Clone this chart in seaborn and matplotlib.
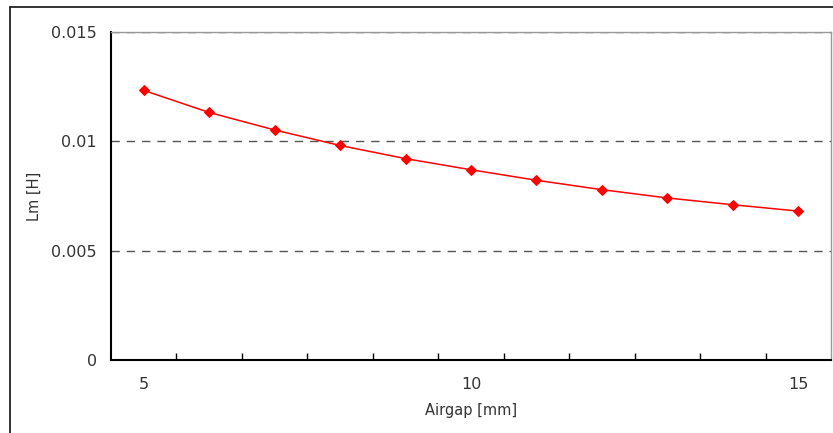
import matplotlib
matplotlib.use("Agg")
import matplotlib.pyplot as plt
import seaborn as sns
import pandas as pd
from matplotlib.lines import Line2D

airgap = [5, 6, 7, 8, 9, 10, 11, 12, 13, 14, 15]
lm = [0.01233, 0.01132, 0.01052, 0.00981, 0.00921, 0.00870, 0.00822, 0.00779, 0.00741, 0.00710, 0.00681]
yticks = [0, 0.005, 0.01, 0.015]
ytick_labels = ["0", "0.005", "0.01", "0.015"]
xticks = [5, 10, 15]
xtick_labels = ["5", "10", "15"]

sns.set_style("white")
plt.rcParams['font.family'] = ['DejaVu Sans']

df = pd.DataFrame({"Airgap": airgap, "Lm": lm})

fig = plt.figure(figsize=(8.33, 4.33), dpi=100)
ax = fig.add_axes([111/833, 1-360/433, 720/833, 328/433])

sns.lineplot(data=df, x="Airgap", y="Lm", ax=ax, color="#ff0000", linewidth=1.1,
             marker="D", markersize=5.5, markeredgecolor="#ff0000", markerfacecolor="#ff0000")

ax.set_xlim(4.5, 15.5)
ax.set_ylim(0, 0.015)
ax.set_yticks(yticks)
ax.set_yticklabels(ytick_labels, fontsize=11.5, color="#333333")
ax.set_xticks(xticks)
ax.set_xticklabels(xtick_labels, fontsize=11.5, color="#333333")
ax.tick_params(axis='x', which='major', length=0, pad=12)
ax.tick_params(axis='y', length=0, pad=10)
# minor ticks at category boundaries, pointing inward
ax.set_xticks([x + 0.5 for x in airgap[:-1]], minor=True)
ax.tick_params(axis='x', which='minor', bottom=True, direction='in', length=5, width=1, color='black')

for y in yticks[1:]:
    ax.axhline(y, color="#555555", linestyle=(0, (6, 5)), linewidth=1, zorder=0)

ax.set_xlabel("Airgap [mm]", fontsize=10.5, color="#333333", labelpad=8)
ax.set_ylabel("Lm [H]", fontsize=10.5, color="#333333", labelpad=7)

for s in ["left", "bottom"]:
    ax.spines[s].set_color("black")
    ax.spines[s].set_linewidth(1.5)
ax.spines["top"].set_color("#999999")
ax.spines["top"].set_linewidth(1)
ax.spines["right"].set_color("#999999")
ax.spines["right"].set_linewidth(1)

# outer figure border
fig.add_artist(Line2D([10/833, 10/833], [0, 1-7/433], transform=fig.transFigure, color="#222222", linewidth=1.3))
fig.add_artist(Line2D([10/833, 1], [1-7/433, 1-7/433], transform=fig.transFigure, color="#222222", linewidth=1.3))

fig.savefig("out.png", dpi=100)
